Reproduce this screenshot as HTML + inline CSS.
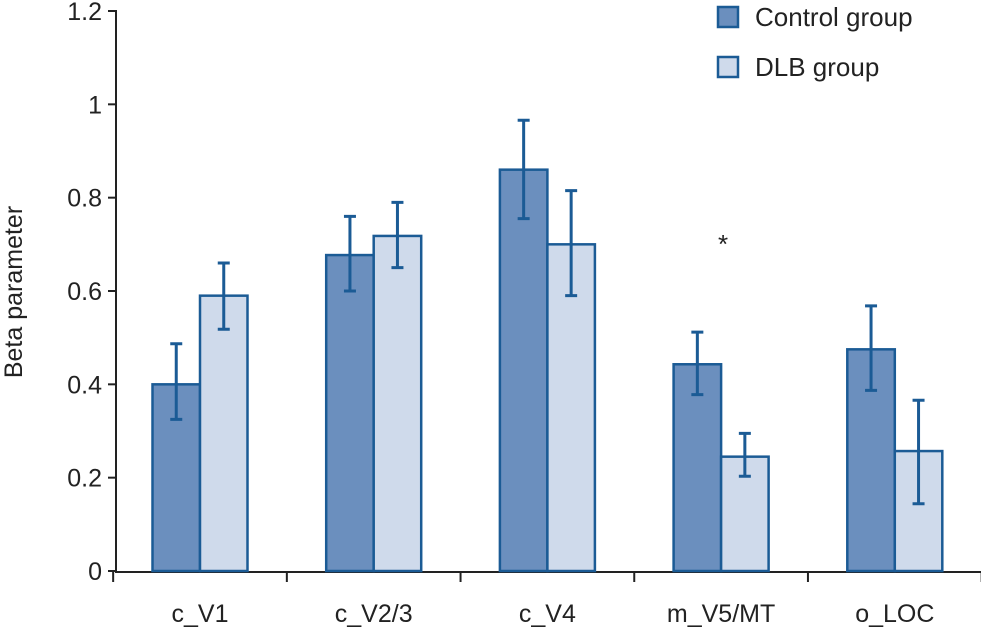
<!DOCTYPE html>
<html><head><meta charset="utf-8"><style>
body{margin:0;background:#fff;}
svg{display:block;font-family:"Liberation Sans",sans-serif;}
</style></head><body>
<svg id="chart" width="981" height="631" viewBox="0 0 981 631">
<g id="axes"></g><g id="bars"></g>
</svg>
<script>
const categories=["c_V1","c_V2/3","c_V4","m_V5/MT","o_LOC"];
const controlValues=[0.40,0.677,0.86,0.443,0.475];
const controlLow=[0.325,0.60,0.755,0.378,0.387];
const controlHigh=[0.487,0.76,0.966,0.512,0.568];
const dlbValues=[0.59,0.718,0.70,0.245,0.257];
const dlbLow=[0.518,0.65,0.59,0.203,0.144];
const dlbHigh=[0.66,0.79,0.815,0.295,0.366];
const yTicks=[0,0.2,0.4,0.6,0.8,1,1.2];
const yTickLabels=["0","0.2","0.4","0.6","0.8","1","1.2"];

const NS="http://www.w3.org/2000/svg";
const y0=571,yScale=(570-10)/1.2;
const y=v=>y0-v*yScale;
const step=173.7,first=200;
const xc=i=>first+step*i;
const bw=47.5;
const stroke="#1b5b95";
function mk(tag,attrs,parent,text){const e=document.createElementNS(NS,tag);for(const k in attrs)e.setAttribute(k,attrs[k]);if(text!==undefined)e.textContent=text;parent.appendChild(e);return e;}
const axes=document.getElementById('axes'),bars=document.getElementById('bars');
let e=mk('line',{x1:116,y1:10,x2:116,y2:572,stroke:'#222','stroke-width':2},axes);

e=mk('line',{x1:115,y1:572,x2:981,y2:572,stroke:'#222','stroke-width':2},axes);

yTicks.forEach((t,i)=>{
 let l=mk('line',{x1:108,x2:116,y1:y(t),y2:y(t),stroke:'#222','stroke-width':2},axes);
 
 let tx=mk('text',{x:102,y:y(t)+9,'text-anchor':'end','font-size':25,fill:'#222'},axes,yTickLabels[i]);
 
});
for(let i=0;i<=categories.length;i++){
 const xx=xc(i)-step/2;
 let l=mk('line',{x1:xx,x2:xx,y1:572,y2:582,stroke:'#222','stroke-width':2},axes);
 
}
categories.forEach((c,i)=>{
 let t=mk('text',{x:xc(i),y:622,'text-anchor':'middle','font-size':25,fill:'#222'},axes,c);
 
});
let yt=mk('text',{x:0,y:0,transform:'translate(22,292) rotate(-90)','text-anchor':'middle','font-size':25,fill:'#222'},axes,'Beta parameter');

function drawBar(x,v,lo,hi,fill,name){
 let r=mk('rect',{x:x,y:y(v),width:bw,height:y0-y(v),fill:fill,stroke:stroke,'stroke-width':2.5},bars);
 
 const cx=x+bw/2;
 let g=mk('path',{d:`M${cx},${y(lo)}V${y(hi)}M${cx-6},${y(lo)}H${cx+6}M${cx-6},${y(hi)}H${cx+6}`,stroke:stroke,'stroke-width':3,fill:'none'},bars);
 
}
categories.forEach((c,i)=>{
 drawBar(xc(i)-bw,controlValues[i],controlLow[i],controlHigh[i],'#6b8fbe','bar-control-'+i);
 drawBar(xc(i),dlbValues[i],dlbLow[i],dlbHigh[i],'#cfdaeb','bar-dlb-'+i);
});
let s=mk('text',{x:723,y:253,'text-anchor':'middle','font-size':26,fill:'#222'},bars,'*');

[['Control group','#6b8fbe',7],['DLB group','#cfdaeb',57]].forEach(([lab,f,yy])=>{
 let r=mk('rect',{x:718,y:yy,width:20,height:20,fill:f,stroke:stroke,'stroke-width':2.5},axes);
 
 let t=mk('text',{x:755,y:yy+19,'font-size':26,fill:'#222'},axes,lab);
 
});
</script>
</body></html>
